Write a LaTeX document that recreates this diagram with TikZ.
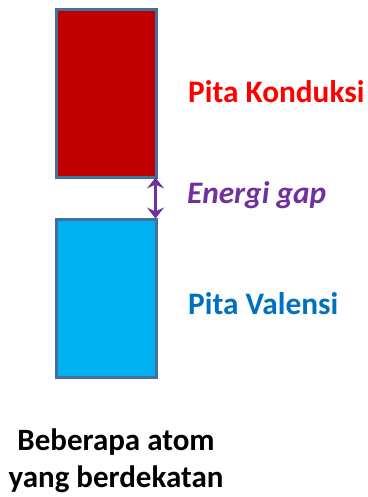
\documentclass[tikz,border=0pt]{standalone}
\usepackage{fontspec}
\setmainfont{Carlito}
\usetikzlibrary{arrows.meta}
\definecolor{bandred}{HTML}{C00000}
\definecolor{bandblue}{HTML}{00B0F0}
\definecolor{bandedge}{HTML}{41719C}
\definecolor{txtred}{HTML}{FF0000}
\definecolor{txtblue}{HTML}{0070C0}
\definecolor{txtpurple}{HTML}{7030A0}
\tikzset{
  band/.style={draw=bandedge, line width=3pt, minimum width=100pt, inner sep=0pt},
  lbl/.style={anchor=base west, inner sep=0pt, font=\fontsize{31.3}{37}\selectfont\bfseries},
  gaparrow/.style={draw=txtpurple, line width=3pt, {Stealth[length=11pt,width=17pt,inset=4pt]}-{Stealth[length=11pt,width=17pt,inset=4pt]}},
}
\begin{document}
\begin{tikzpicture}[x=1pt,y=-1pt]
\useasboundingbox (0,0) rectangle (367,497);
\node[band, fill=bandred, minimum height=167pt] (cb) at (106,93.5) {};
\node[band, fill=bandblue, minimum height=158pt] (vb) at (106,298) {};
\draw[gaparrow] ([xshift=-2pt,yshift=1pt]cb.south east) -- ([xshift=-2pt,yshift=-1pt]vb.north east);
\node[lbl, text=txtred] (kond) at (188,103) {Pita Konduksi};
\node[lbl, text=txtpurple, font=\fontsize{31.3}{37}\selectfont\bfseries\itshape] (gap) at (187,203) {Energi gap};
\node[lbl, text=txtblue] (val) at (188,314) {Pita Valensi};
\node[anchor=base, inner sep=0pt, align=center, font=\fontsize{31}{37}\selectfont\bfseries] (atom) at (116,487) {Beberapa atom\\yang berdekatan};
\end{tikzpicture}
\end{document}
